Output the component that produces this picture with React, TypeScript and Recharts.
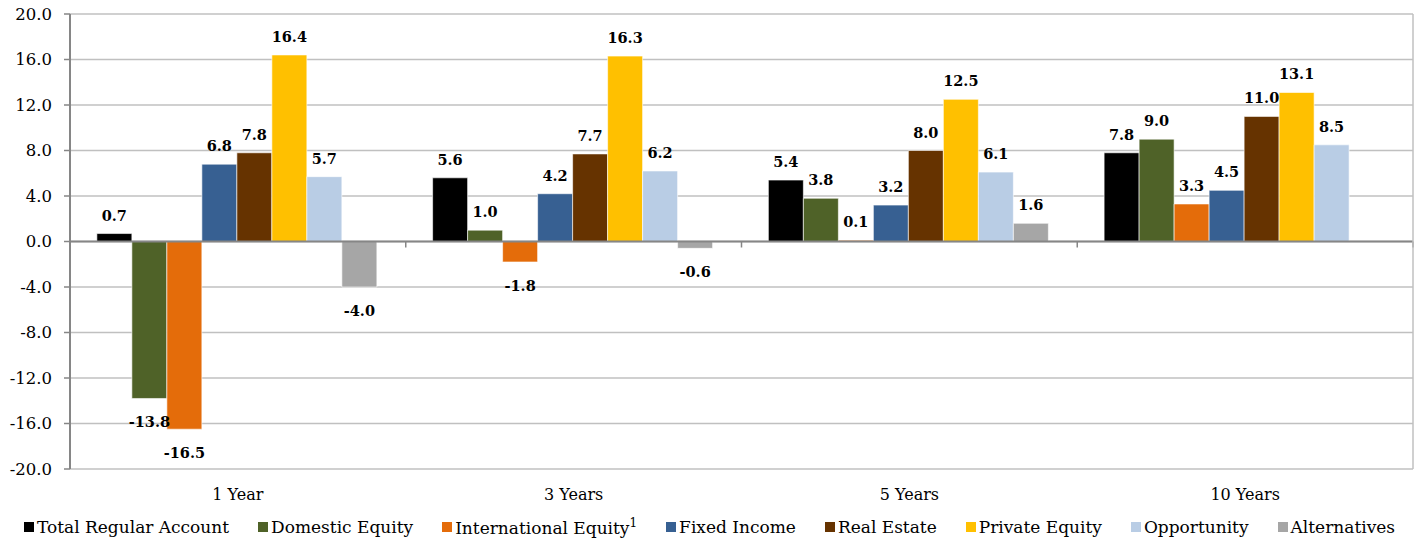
import React from 'react';
import { BarChart, Bar, XAxis, YAxis, CartesianGrid, LabelList, ReferenceLine } from 'recharts';

// Periods shown along the bottom
const periods = ['1 Year', '3 Years', '5 Years', '10 Years'];

// Annualized returns (%) per asset class, in period order
const totalRegular = [0.7, 5.6, 5.4, 7.8];
const domesticEquity = [-13.8, 1.0, 3.8, 9.0];
const internationalEquity = [-16.5, -1.8, 0.1, 3.3];
const fixedIncome = [6.8, 4.2, 3.2, 4.5];
const realEstate = [7.8, 7.7, 8.0, 11.0];
const privateEquity = [16.4, 16.3, 12.5, 13.1];
const opportunity = [5.7, 6.2, 6.1, 8.5];
const alternatives: (number | null)[] = [-4.0, -0.6, 1.6, null];

const yTicks = [-20, -16, -12, -8, -4, 0, 4, 8, 12, 16, 20];

const series = [
  { key: 'total', name: 'Total Regular Account', values: totalRegular, color: '#000000' },
  { key: 'domestic', name: 'Domestic Equity', values: domesticEquity, color: '#4F6228' },
  { key: 'intl', name: 'International Equity', sup: '1', values: internationalEquity, color: '#E46C0A' },
  { key: 'fixed', name: 'Fixed Income', values: fixedIncome, color: '#376092' },
  { key: 'realEstate', name: 'Real Estate', values: realEstate, color: '#663300' },
  { key: 'private', name: 'Private Equity', values: privateEquity, color: '#FFC000' },
  { key: 'opportunity', name: 'Opportunity', values: opportunity, color: '#B9CDE5' },
  { key: 'alternatives', name: 'Alternatives', values: alternatives, color: '#A6A6A6' },
];

const chartData = periods.map((period, i) => {
  const row: Record<string, string | number | null> = { period };
  series.forEach(s => {
    row[s.key] = s.values[i];
  });
  return row;
});

const FONT = '"DejaVu Serif", Georgia, serif';

// value label above positive bars, below negative ones
const renderBarLabel = (props: any) => {
  const { value } = props;
  if (value === null || value === undefined) return null;
  const vb = props.viewBox ?? props;
  const x = vb.x ?? props.x;
  const y = vb.y ?? props.y;
  const width = vb.width ?? props.width;
  const height = vb.height ?? props.height;
  const top = Math.min(y, y + height);
  const bottom = Math.max(y, y + height);
  const ty = value >= 0 ? top - 13 : bottom + 29;
  return (
    <text x={x + width / 2} y={ty} textAnchor="middle" fontFamily={FONT} fontWeight="bold" fontSize={14.5} fill="#000">
      {Number(value).toFixed(1)}
    </text>
  );
};

// zero line with small tick marks at the category boundaries
const ZeroLine = (props: any) => {
  const { x1, y1, x2 } = props;
  const step = (x2 - x1) / periods.length;
  const ticks = periods.map((_, i) => x1 + step * (i + 1));
  return (
    <g>
      <line x1={x1} y1={y1} x2={x2} y2={y1} stroke="#868686" strokeWidth={2} />
      {ticks.map(tx => (
        <line key={tx} x1={tx} y1={y1} x2={tx} y2={y1 + 6} stroke="#868686" strokeWidth={1.5} />
      ))}
    </g>
  );
};

const App: React.FC = () => {
  return (
    <div style={{ position: 'absolute', left: 0, top: 0, width: 1419, height: 540, background: '#fff', fontFamily: FONT }}>
      <BarChart
        width={1419}
        height={540}
        data={chartData}
        margin={{ top: 14, right: 0, left: 0, bottom: 0 }}
        barCategoryGap="8%"
        barGap={0}
      >
        <CartesianGrid vertical={false} stroke="#C0C0C0" strokeWidth={1.5} />
        <XAxis
          dataKey="period"
          axisLine={false}
          tickLine={false}
          tickSize={0}
          tickMargin={20}
          height={71}
          tick={{ fontSize: 16, fill: '#000', fontFamily: FONT }}
        />
        <YAxis
          width={70}
          domain={[-20, 20]}
          ticks={yTicks}
          interval={0}
          tickFormatter={(v: number) => v.toFixed(1)}
          axisLine={{ stroke: '#868686', strokeWidth: 2 }}
          tickLine={{ stroke: '#868686', strokeWidth: 1.5 }}
          tickSize={6}
          tickMargin={12}
          tick={{ fontSize: 16.5, fill: '#000', fontFamily: FONT }}
        />
        <YAxis
          yAxisId="right"
          orientation="right"
          width={6}
          domain={[-20, 20]}
          tick={false}
          tickLine={false}
          axisLine={{ stroke: '#C0C0C0', strokeWidth: 1.5 }}
        />
        <ReferenceLine y={0} shape={ZeroLine} />
        {series.map(s => (
          <Bar
            key={s.key}
            dataKey={s.key}
            name={s.name}
            fill={s.color}
            stroke="#ffffff"
            strokeWidth={0.6}
            isAnimationActive={false}
          >
            <LabelList dataKey={s.key} content={renderBarLabel} />
          </Bar>
        ))}
      </BarChart>
      <div
        style={{
          position: 'absolute',
          left: 0,
          top: 516,
          width: 1419,
          display: 'flex',
          justifyContent: 'center',
          alignItems: 'center',
          gap: 29,
          fontSize: 17,
          color: '#000',
        }}
      >
        {series.map(s => (
          <div key={s.key} style={{ display: 'flex', alignItems: 'center' }}>
            <span style={{ display: 'inline-block', width: 10, height: 10, background: s.color, marginRight: 3 }} />
            <span>
              {s.name}
              {s.sup && <sup style={{ fontSize: 12 }}>{s.sup}</sup>}
            </span>
          </div>
        ))}
      </div>
    </div>
  );
};

export default App;
